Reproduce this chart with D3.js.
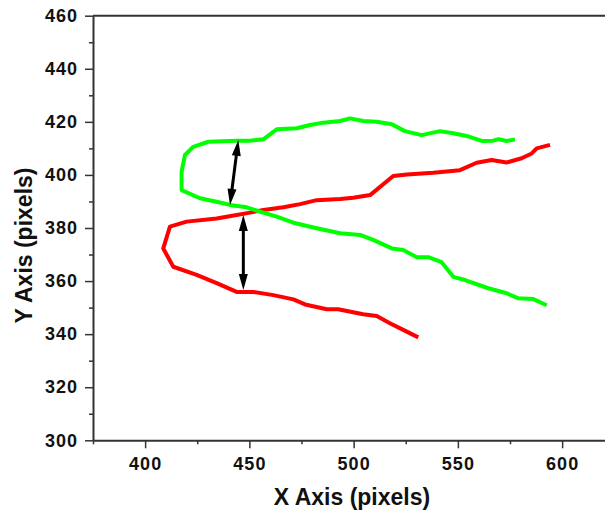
<!DOCTYPE html>
<html>
<head>
<meta charset="utf-8">
<script src="https://cdn.jsdelivr.net/npm/d3@7"></script>
<style>
  html, body { margin: 0; padding: 0; background: #fff; }
  svg { display: block; font-family: "Liberation Sans", Arial, sans-serif; }
</style>
</head>
<body>
<div id="chart"></div>
<script>
// Data (x, y in pixels of the tracked image)
const greenX = [577.4, 573.4, 569.4, 567.0, 561.4, 554.2, 547.8, 541.4, 532.6, 524.6, 518.3, 511.1, 504.6, 498.3, 493.5, 485.5, 479.1, 472.7, 463.1, 456.7, 450.3, 443.9, 430.3, 423.1, 419.1, 417.5, 417.5,
                426.3, 434.3, 440.7, 448.7, 454.1, 463.1, 471.1, 482.3, 493.5, 503.1, 509.4, 518.3, 523.8, 530.3, 535.8, 542.2, 547.8, 553.4, 564.6, 573.4, 579.0, 586.2, 592.6];
const greenY = [413.4, 412.8, 413.5, 412.9, 412.8, 414.7, 415.7, 416.5, 415.0, 416.5, 419.1, 420.0, 420.3, 421.3, 420.3, 419.7, 418.8, 417.6, 417.2, 413.4, 412.9, 412.9, 412.5, 410.6, 407.5, 401.2, 394.3,
                391.2, 389.9, 388.7, 387.8, 386.4, 384.3, 382.0, 379.9, 378.0, 377.4, 375.5, 372.3, 371.7, 369.0, 369.0, 367.1, 361.6, 360.4, 357.3, 355.4, 353.5, 353.2, 350.9];

const redX = [531.0, 523.8, 517.4, 511.1, 504.6, 492.6, 487.1, 476.7, 471.1, 461.5, 451.9, 443.9, 434.3, 424.7, 413.5, 408.7,
              411.9, 419.9, 434.3, 443.9, 450.3, 456.7, 466.3, 474.3, 482.3, 493.5, 499.8, 507.9, 519.0, 525.5, 538.2, 551.0, 559.0, 566.2, 573.4, 580.6, 585.4, 587.8, 594.2];
const redY = [338.8, 341.6, 344.1, 346.8, 347.5, 349.4, 349.4, 351.2, 353.1, 354.7, 355.9, 355.9, 359.2, 362.3, 365.4, 372.3,
              380.5, 382.4, 383.6, 384.9, 385.8, 386.8, 387.8, 389.0, 390.5, 390.9, 391.4, 392.4, 399.6, 400.2, 400.8, 401.8, 404.6, 405.6, 404.7, 406.3, 408.1, 410.0, 411.3];

// double-headed arrows: [x1, y1, x2, y2]
const arrows = [
  [444.7, 413.2, 440.7, 388.7],
  [447.1, 384.9, 447.1, 356.6]
];

const xMajor = [400, 450, 500, 550, 600];
const xMinor = [375, 425, 475, 525, 575, 625];
const yMajor = [300, 320, 340, 360, 380, 400, 420, 440, 460];
const yMinor = [310, 330, 350, 370, 390, 410, 430, 450];

const W = 605, H = 516;
const margin = {top: 15.7, left: 93, bottom: 75.7};

const svg = d3.select("#chart").append("svg")
    .attr("width", W)
    .attr("height", H);

const x = d3.scaleLinear().domain([375, 625]).range([margin.left, margin.left + 250 * 2.085]);
const y = d3.scaleLinear().domain([300, 460]).range([H - margin.bottom, margin.top]);

const axisColor = "#333";
const tickFont = "18px";

// top frame line
svg.append("line")
    .attr("x1", x(375)).attr("x2", x(625))
    .attr("y1", y(460)).attr("y2", y(460))
    .attr("stroke", axisColor)
    .attr("stroke-width", 2);

// X axis
svg.append("g")
    .attr("transform", `translate(0,${y(300)})`)
    .call(d3.axisBottom(x).tickValues(xMajor).tickSize(8).tickPadding(9).tickSizeOuter(0));
svg.append("g")
    .attr("transform", `translate(0,${y(300)})`)
    .call(d3.axisBottom(x).tickValues(xMinor).tickSize(4).tickFormat("").tickSizeOuter(0))
    .call(g => g.select(".domain").remove());

// Y axis
svg.append("g")
    .attr("transform", `translate(${x(375)},0)`)
    .call(d3.axisLeft(y).tickValues(yMajor).tickSize(8).tickPadding(7).tickSizeOuter(0));
svg.append("g")
    .attr("transform", `translate(${x(375)},0)`)
    .call(d3.axisLeft(y).tickValues(yMinor).tickSize(4).tickFormat("").tickSizeOuter(0))
    .call(g => g.select(".domain").remove());

svg.selectAll(".domain").attr("stroke", axisColor).attr("stroke-width", 2);
svg.selectAll(".tick line").attr("stroke", axisColor).attr("stroke-width", 1.5);
svg.selectAll(".tick text")
    .attr("fill", "#111")
    .style("font-family", "'Liberation Sans', Arial, sans-serif")
    .style("font-size", tickFont)
    .style("font-weight", "bold")
    .style("letter-spacing", "1px");

// Axis titles
svg.append("text")
    .attr("x", 352)
    .attr("y", 505)
    .attr("text-anchor", "middle")
    .attr("fill", "#111")
    .style("font-size", "23px")
    .style("font-weight", "bold")
    .text("X Axis (pixels)");

svg.append("text")
    .attr("transform", `translate(32,245.5) rotate(-90)`)
    .attr("text-anchor", "middle")
    .attr("fill", "#111")
    .style("font-size", "23px")
    .style("font-weight", "bold")
    .text("Y Axis (pixels)");

// Curves
const line = d3.line().x(d => x(d[0])).y(d => y(d[1]));

svg.append("path")
    .datum(d3.zip(redX, redY))
    .attr("d", line)
    .attr("fill", "none")
    .attr("stroke", "#ff0000")
    .attr("stroke-width", 4)
    .attr("stroke-linejoin", "round");

svg.append("path")
    .datum(d3.zip(greenX, greenY))
    .attr("d", line)
    .attr("fill", "none")
    .attr("stroke", "#00ff00")
    .attr("stroke-width", 4)
    .attr("stroke-linejoin", "round");

// Arrows
const headLen = 16, headHalf = 4.5;
arrows.forEach(a => {
    const p0 = [x(a[0]), y(a[1])], p1 = [x(a[2]), y(a[3])];
    const dx = p1[0] - p0[0], dy = p1[1] - p0[1];
    const len = Math.hypot(dx, dy);
    const ux = dx / len, uy = dy / len;
    const nx = -uy, ny = ux;
    svg.append("line")
        .attr("x1", p0[0] + ux * (headLen - 2)).attr("y1", p0[1] + uy * (headLen - 2))
        .attr("x2", p1[0] - ux * (headLen - 2)).attr("y2", p1[1] - uy * (headLen - 2))
        .attr("stroke", "#000")
        .attr("stroke-width", 3);
    [[p0, -1], [p1, 1]].forEach(([tip, s]) => {
        const bx = tip[0] - s * ux * headLen, by = tip[1] - s * uy * headLen;
        svg.append("polygon")
            .attr("points", [
                [tip[0], tip[1]],
                [bx + nx * headHalf, by + ny * headHalf],
                [bx - nx * headHalf, by - ny * headHalf]
            ].map(p => p.join(",")).join(" "))
            .attr("fill", "#000");
    });
});
</script>
</body>
</html>
